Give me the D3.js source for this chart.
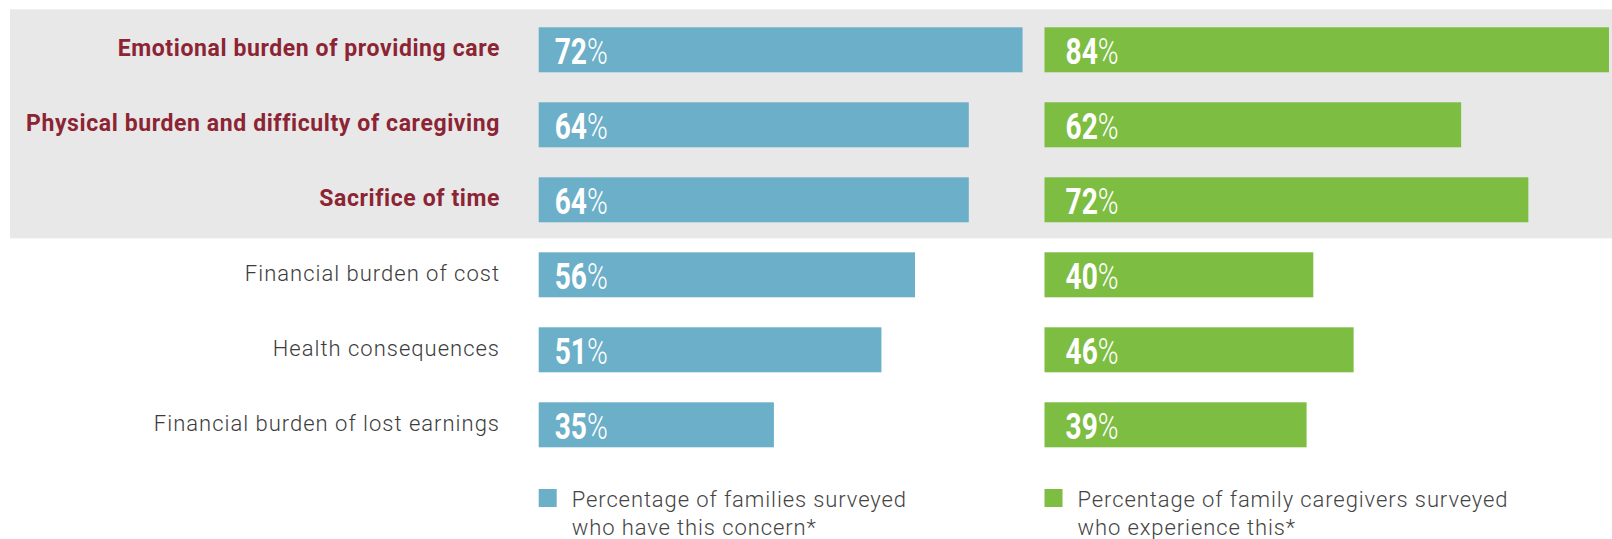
<!DOCTYPE html>
<html>
<head>
<meta charset="utf-8">
<script src="https://cdn.jsdelivr.net/npm/d3@7"></script>
<style>
	body { margin: 0; background: #fff; }
	svg { display: block; }
</style>
</head>
<body>
<svg id="chart" width="1612" height="539"></svg>
<script>
var categories = [
	'Emotional burden of providing care',
	'Physical burden and difficulty of caregiving',
	'Sacrifice of time',
	'Financial burden of cost',
	'Health consequences',
	'Financial burden of lost earnings'
];
var highlighted = [true, true, true, false, false, false];
var familiesConcern = [72, 64, 64, 56, 51, 35];
var caregiversExperience = [84, 62, 72, 40, 46, 39];
var legendLabels = [
	['Percentage of families surveyed', 'who have this concern*'],
	['Percentage of family caregivers surveyed', 'who experience this*']
];

var blue = '#6cafc8', green = '#7dbd42', red = '#8c2434';

var svg = d3.select('#chart');

var y = d3.scaleBand()
	.domain(categories)
	.range([12.3, 462.3])
	.paddingInner(0.4)
	.paddingOuter(0.2);

var x = d3.scaleLinear().domain([0, 100]).range([0, 672]);

var series = [
	{values: familiesConcern, color: blue, left: 538.7, labelOff: 16},
	{values: caregiversExperience, color: green, left: 1044.5, labelOff: 21}
];

// grey band behind the top three rows
var hi = categories.filter(function(c, i) { return highlighted[i]; });
svg.append('rect')
	.attr('x', 10)
	.attr('y', y(hi[0]) - 18)
	.attr('width', 1612 - 10)
	.attr('height', y(hi[hi.length - 1]) + y.bandwidth() + 16 - (y(hi[0]) - 18))
	.attr('fill', '#e8e8e8');

// category labels
svg.append('g').selectAll('text')
	.data(categories)
	.enter()
	.append('text')
	.attr('x', 500)
	.attr('y', function(d) { return y(d) + y.bandwidth() / 2 + 6; })
	.attr('text-anchor', 'end')
	.style('font-family', 'Roboto, sans-serif')
	.style('font-size', function(d, i) { return highlighted[i] ? '23px' : '22px'; })
	.style('letter-spacing', function(d, i) { return highlighted[i] ? '0.6px' : '1px'; })
	.style('font-weight', function(d, i) { return highlighted[i] ? 700 : 300; })
	.style('fill', function(d, i) { return highlighted[i] ? red : '#3c3c3c'; })
	.text(function(d) { return d; });

series.forEach(function(s) {
	var g = svg.append('g');
	g.selectAll('rect')
		.data(s.values)
		.enter()
		.append('rect')
		.attr('x', s.left)
		.attr('y', function(d, i) { return y(categories[i]); })
		.attr('width', function(d) { return x(d); })
		.attr('height', y.bandwidth())
		.attr('fill', s.color);

	var t = g.selectAll('text')
		.data(s.values)
		.enter()
		.append('text')
		.attr('transform', function(d, i) {
			return 'translate(' + (s.left + s.labelOff) + ',' + (y(categories[i]) + 36.7) + ') scale(0.75,1)';
		})
		.style('font-family', 'Roboto, sans-serif')
		.style('font-size', '37.5px')
		.style('fill', '#fff');
	t.append('tspan').style('font-weight', 700).text(function(d) { return d; });
	t.append('tspan').style('font-weight', 300).text('%');
});

// legend
var legend = svg.append('g');
series.forEach(function(s, k) {
	legend.append('rect')
		.attr('x', s.left)
		.attr('y', 489)
		.attr('width', 18)
		.attr('height', 18)
		.attr('fill', s.color);
	var lt = legend.append('text')
		.attr('x', s.left + 33)
		.attr('y', 507)
		.style('font-family', 'Roboto, sans-serif')
		.style('font-size', '22px')
		.style('letter-spacing', '0.9px')
		.style('font-weight', 300)
		.style('fill', '#444');
	lt.selectAll('tspan')
		.data(legendLabels[k])
		.enter()
		.append('tspan')
		.attr('x', s.left + 33)
		.attr('dy', function(d, i) { return i ? 28 : 0; })
		.text(function(d) { return d; });
});
</script>
</body>
</html>
